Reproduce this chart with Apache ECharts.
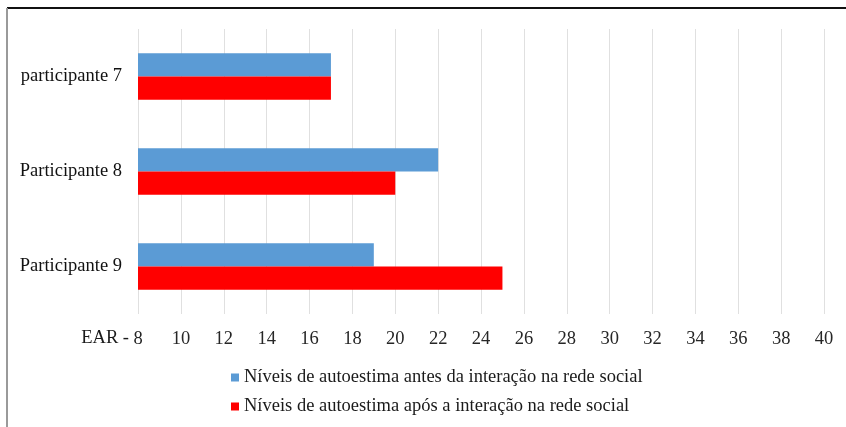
<!DOCTYPE html>
<html>
<head>
<meta charset="utf-8">
<script src="https://cdn.jsdelivr.net/npm/echarts@6/dist/echarts.min.js"></script>
<style>
  html, body { margin: 0; padding: 0; background: #ffffff; }
  #chart { width: 846px; height: 427px; }
</style>
</head>
<body>
<div id="chart"></div>
<script>
// Participants (top to bottom)
const participants = ['participante 7', 'Participante 8', 'Participante 9'];
// Self-esteem scale (EAR) scores before and after social-network interaction
const beforeScores = [17, 22, 19];
const afterScores = [17, 20, 25];
const seriesNames = [
  'Níveis de autoestima antes da interação na rede social',
  'Níveis de autoestima após a interação na rede social'
];
const axisTitle = 'EAR -';

const serif = '"Liberation Serif", "DejaVu Serif", serif';
const fontPx = 18.5;

const chart = echarts.init(document.getElementById('chart'));
chart.setOption({
  backgroundColor: '#ffffff',
  animation: false,
  grid: { left: 138, right: 22, top: 29, bottom: 113 },
  xAxis: {
    type: 'value',
    min: 8, max: 40, interval: 2,
    axisLine: { show: false },
    axisTick: { show: false },
    splitLine: { show: true, lineStyle: { color: '#e0e0e0', width: 1 } },
    axisLabel: { margin: 16, fontFamily: serif, fontSize: fontPx, color: '#262626' }
  },
  yAxis: {
    type: 'category',
    data: participants,
    inverse: true,
    axisLine: { show: false },
    axisTick: { show: false },
    axisLabel: { margin: 16, fontFamily: serif, fontSize: fontPx, color: '#111111' }
  },
  legend: {
    orient: 'vertical',
    left: 226, top: 363,
    itemWidth: 8, itemHeight: 8,
    itemGap: 10,
    icon: 'rect',
    textStyle: { fontFamily: serif, fontSize: fontPx, color: '#1a1a1a' },
    data: seriesNames
  },
  series: [
    {
      name: seriesNames[0], type: 'bar', data: beforeScores,
      itemStyle: { color: '#5B9BD5' },
      barGap: '0%', barCategoryGap: '51%'
    },
    {
      name: seriesNames[1], type: 'bar', data: afterScores,
      itemStyle: { color: '#FF0000' },
      barGap: '0%', barCategoryGap: '51%'
    }
  ]
});

// Axis title placed just left of the first tick label, plus the frame edges
const origin = chart.convertToPixel({ xAxisIndex: 0, yAxisIndex: 0 }, [8, participants[2]]);
chart.setOption({
  graphic: [
    {
      type: 'text',
      x: origin[0] - 9, y: 338,
      style: {
        text: axisTitle, font: fontPx + 'px ' + serif, fill: '#1a1a1a',
        textAlign: 'right', textVerticalAlign: 'middle'
      }
    },
    {
      type: 'line',
      shape: { x1: 7, y1: 8, x2: 846, y2: 8 },
      style: { stroke: '#111111', lineWidth: 2 }
    },
    {
      type: 'line',
      shape: { x1: 7, y1: 8, x2: 7, y2: 427 },
      style: { stroke: '#9a9a9a', lineWidth: 2 }
    }
  ]
});
</script>
</body>
</html>
